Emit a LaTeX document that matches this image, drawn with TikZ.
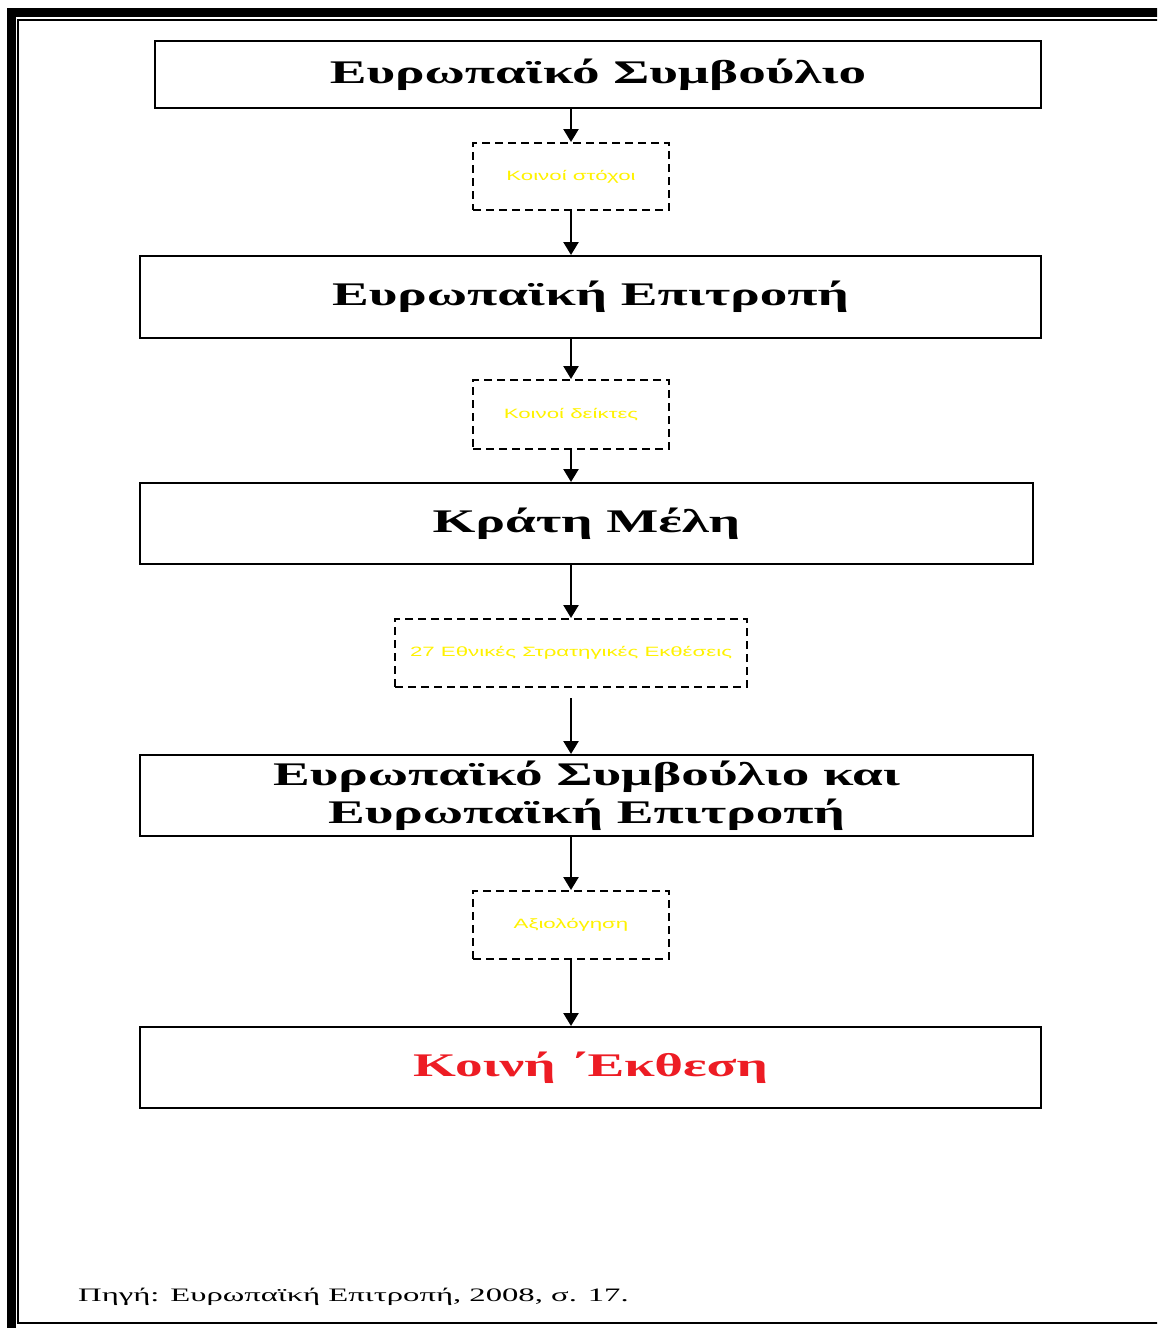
\documentclass[tikz,border=0pt]{standalone}
\usepackage{fontspec}
\usepackage{tikz}
\usetikzlibrary{arrows.meta}

\setmainfont{Liberation Serif}
\newfontfamily\headfont{Liberation Serif}[FakeStretch=1.67]
\newfontfamily\labelfont{Liberation Sans}[FakeStretch=1.65]
\newfontfamily\sourcefont{Liberation Serif}[FakeStretch=1.72]
\definecolor{labelyellow}{RGB}{255,242,0}
\definecolor{finalred}{RGB}{237,28,36}

\begin{document}
\begin{tikzpicture} [x=1pt, y=-1pt,
            body/.style={draw, line width=2pt, inner sep=0pt, align=center,
                font=\headfont\bfseries\fontsize{33}{38}\selectfont},
            output/.style={draw, line width=2pt, dash pattern=on 8pt off 5pt,
                inner sep=0pt, text=labelyellow, font=\labelfont\fontsize{13.5}{16}\selectfont},
            flow/.style={line width=2.5pt, -{Triangle[length=13pt, width=15pt]}}]

        \useasboundingbox (0,0) rectangle (1157,1328);
        \clip (0,0) rectangle (1157,1328);

        % frame
        \draw[line width=9pt] (11,12.5) rectangle (1180,1332);
        \draw[line width=2pt] (18,20) rectangle (1180,1323);

        % bodies and outputs
        \node[body, minimum width=886pt, minimum height=67pt] (council) at (598,74.5) {Ευρωπαϊκό Συμβούλιο};
        \node[output, minimum width=196pt, minimum height=67pt] (goals) at (571,176.5) {Κοινοί στόχοι};
        \node[body, minimum width=901pt, minimum height=82pt] (commission) at (590.5,297) {Ευρωπαϊκή Επιτροπή};
        \node[output, minimum width=196pt, minimum height=69pt] (indicators) at (571,414.5) {Κοινοί δείκτες};
        \node[body, minimum width=893pt, minimum height=81pt] (states) at (586.5,523.5) {Κράτη Μέλη};
        \node[output, minimum width=352pt, minimum height=68pt] (reports) at (571,653) {27 Εθνικές Στρατηγικές Εκθέσεις};
        \node[body, minimum width=893pt, minimum height=81pt] (joint) at (586.5,795.5) {Ευρωπαϊκό Συμβούλιο και\\Ευρωπαϊκή Επιτροπή};
        \node[output, minimum width=196pt, minimum height=68pt] (evaluation) at (571,925) {Αξιολόγηση};
        \node[body, text=finalred, minimum width=901pt, minimum height=81pt] (final) at (590.5,1067.5) {Κοινή ΄Εκθεση};

        \node[anchor=base west, inner sep=0pt, font=\sourcefont\fontsize{19}{22}\selectfont] (source) at (78,1301) {Πηγή: Ευρωπαϊκή Επιτροπή, 2008, σ. 17.};

        % connectors
        \draw[flow] (council.south -| goals.north) -- (goals.north);
        \draw[flow] (goals.south) -- (goals.south |- commission.north);
        \draw[flow] (commission.south -| indicators.north) -- (indicators.north);
        \draw[flow] (indicators.south) -- (indicators.south |- states.north);
        \draw[flow] (states.south -| reports.north) -- (reports.north);
        \draw[flow, shorten <=10pt] (reports.south) -- (reports.south |- joint.north);
        \draw[flow] (joint.south -| evaluation.north) -- (evaluation.north);
        \draw[flow] (evaluation.south) -- (evaluation.south |- final.north);
    \end{tikzpicture}
\end{document}
